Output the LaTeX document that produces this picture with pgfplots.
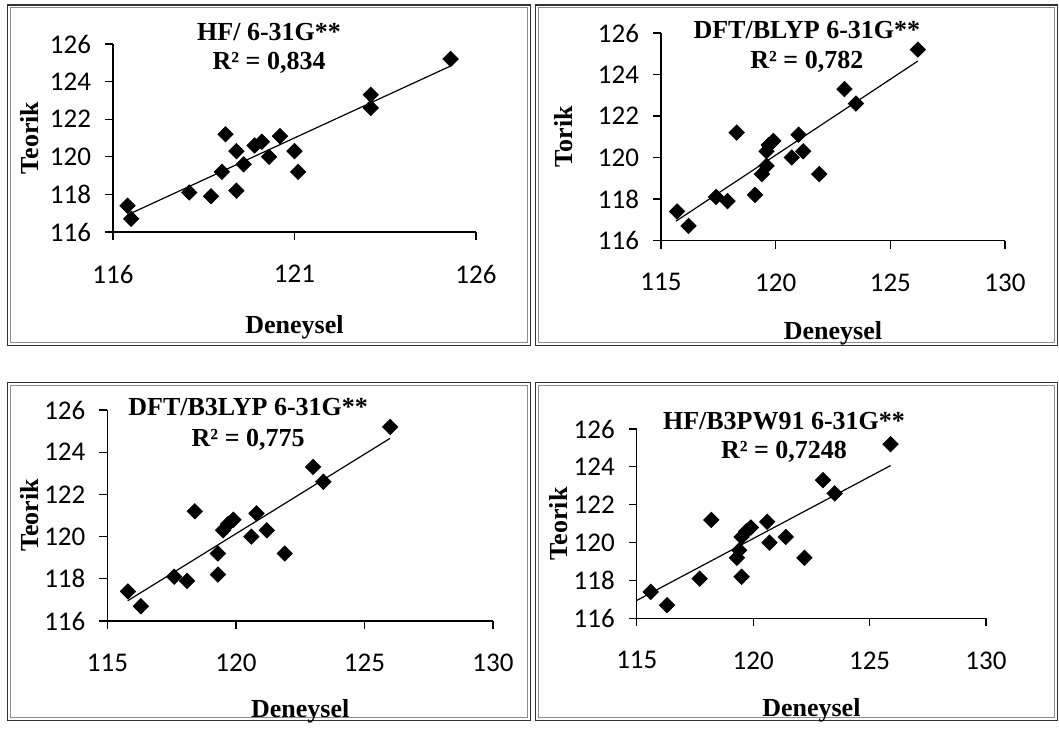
\documentclass[border=0pt]{standalone}
\usepackage{fontspec}
\setmainfont{Liberation Serif}
\newfontfamily\calibri{Carlito}
\usepackage{pgfplots}
\pgfplotsset{compat=1.18}

\newcommand{\lblfont}{\bfseries\fontsize{13}{15}\selectfont}

\pgfplotsset{
  panel/.style={
    scale only axis,
    anchor=south west,
    axis x line=bottom, axis y line=left,
    axis line style={line width=0.6pt, black, -},
    tick align=outside,
    major tick length=4pt,
    tick style={line width=0.6pt, black},
    ymin=116, ymax=126, ytick={116,118,...,126},
    ticklabel style={font=\calibri\fontsize{13.5}{16}\selectfont},
    /pgf/number format/assume math mode=true,
    xticklabel style={yshift=-9pt},
    yticklabel style={xshift=-3.5pt},
    label style={font=\lblfont},
    xlabel={Deneysel},
    clip=false,
  },
  pts/.style={only marks, mark=square*, mark size=2.7pt,
    mark options={rotate=45, fill=black, draw=black}},
  fit/.style={black, line width=0.6pt, no marks},
}

\begin{document}
\begin{tikzpicture}
\path (0pt,0pt) rectangle (529.5pt,-361pt);

% frames (double border, pixel units)
\begin{scope}[x=0.5pt, y=-0.5pt]
  \foreach \a/\b/\c/\d in {7.5/5/530.5/345.5, 535.5/5/1057.5/345.5,
                           7.5/382.5/530.5/720.5, 535.5/382.5/1057.5/720.5} {
    \draw[line width=0.7pt, black!80] (\a,\b) rectangle (\c,\d);
    \draw[line width=0.5pt, black!45] (\a+2.6,\b+2.6) rectangle (\c-2.6,\d-2.6);
  }
\end{scope}

% HF/ 6-31G**
\begin{axis}[panel, at={(56.5pt,-116pt)}, width=181.5pt, height=94pt,
  xmin=116, xmax=126, xtick={116,121,126},
  ylabel={Teorik},
  ylabel style={at={(axis description cs:-0.229,0.5)}, anchor=center},
  xlabel style={at={(axis description cs:0.5,-0.54)}, anchor=base}]
\addplot[fit] coordinates {(116.5,117.0) (125.3,124.83)};
\addplot[pts] coordinates {
  (116.4,117.4) (116.5,116.7) (118.1,118.1) (118.7,117.9) (119.0,119.2)
  (119.1,121.2) (119.4,120.3) (119.4,118.2) (119.6,119.6) (119.9,120.6)
  (120.1,120.8) (120.3,120.0) (120.6,121.1) (121.0,120.3) (121.1,119.2)
  (123.1,123.3) (123.1,122.6) (125.3,125.2)};
\node[anchor=base, font=\lblfont] at (axis description cs:0.43,1.019) {HF/ 6-31G**};
\node[anchor=base, font=\lblfont] at (axis description cs:0.43,0.865) {R² = 0,834};
\end{axis}

% DFT/BLYP 6-31G**
\begin{axis}[panel, at={(330.5pt,-120.25pt)}, width=172pt, height=103.75pt,
  xmin=115, xmax=130, xtick={115,120,125,130},
  ylabel={Torik},
  ylabel style={at={(axis description cs:-0.282,0.5)}, anchor=center},
  xlabel style={at={(axis description cs:0.5,-0.475)}, anchor=base}]
\addplot[fit] coordinates {(115.65,116.93) (126.2,124.65)};
\addplot[pts] coordinates {
  (115.7,117.4) (116.2,116.7) (117.4,118.1) (117.9,117.9) (118.3,121.2)
  (119.1,118.2) (119.4,119.2) (119.6,119.6) (119.6,120.3) (119.7,120.6)
  (119.9,120.8) (120.7,120.0) (121.0,121.1) (121.2,120.3) (121.9,119.2)
  (123.0,123.3) (123.5,122.6) (126.2,125.2)};
\node[anchor=base, font=\lblfont] at (axis description cs:0.424,0.975) {DFT/BLYP 6-31G**};
\node[anchor=base, font=\lblfont] at (axis description cs:0.424,0.83) {R² = 0,782};
\end{axis}

% DFT/B3LYP 6-31G**
\begin{axis}[panel, at={(53.7pt,-310.5pt)}, width=192.8pt, height=105.5pt,
  xmin=115, xmax=130, xtick={115,120,125,130},
  ylabel={Teorik},
  ylabel style={at={(axis description cs:-0.2007,0.5)}, anchor=center},
  xlabel style={at={(axis description cs:0.5,-0.455)}, anchor=base}]
\addplot[fit] coordinates {(115.79,116.96) (126.0,124.66)};
\addplot[pts] coordinates {
  (115.8,117.4) (116.3,116.7) (117.6,118.1) (118.1,117.9) (118.4,121.2)
  (119.3,118.2) (119.3,119.2) (119.5,120.3) (119.7,120.6) (119.9,120.8)
  (120.6,120.0) (120.8,121.1) (121.2,120.3) (121.9,119.2) (123.0,123.3)
  (123.4,122.6) (126.0,125.2)};
\node[anchor=base, font=\lblfont] at (axis description cs:0.365,0.973) {DFT/B3LYP 6-31G**};
\node[anchor=base, font=\lblfont] at (axis description cs:0.365,0.825) {R² = 0,775};
\end{axis}

% HF/B3PW91 6-31G**
\begin{axis}[panel, at={(318.4pt,-309.2pt)}, width=174.6pt, height=94.7pt,
  xmin=115, xmax=130, xtick={115,120,125,130},
  ylabel={Teorik},
  ylabel style={at={(axis description cs:-0.224,0.5)}, anchor=center},
  xlabel style={at={(axis description cs:0.5,-0.52)}, anchor=base}]
\addplot[fit] coordinates {(115.0,116.95) (125.9,124.07)};
\addplot[pts] coordinates {
  (115.6,117.4) (116.3,116.7) (117.7,118.1) (118.2,121.2) (119.3,119.2)
  (119.4,119.6) (119.5,118.2) (119.5,120.3) (119.7,120.6) (119.9,120.8)
  (120.6,121.1) (120.7,120.0) (121.4,120.3) (122.2,119.2) (123.0,123.3)
  (123.5,122.6) (125.9,125.2)};
\node[anchor=base, font=\lblfont] at (axis description cs:0.4215,0.998) {HF/B3PW91 6-31G**};
\node[anchor=base, font=\lblfont] at (axis description cs:0.4215,0.844) {R² = 0,7248};
\end{axis}
\end{tikzpicture}
\end{document}
